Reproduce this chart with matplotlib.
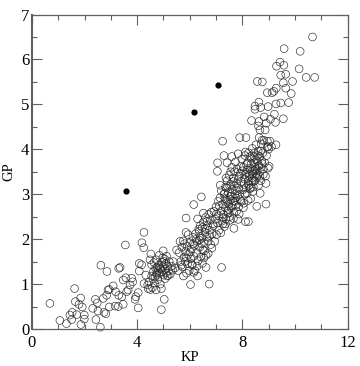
"""Scatter of GP against KP: open circles plus three filled outliers."""
import matplotlib
matplotlib.use("Agg")
import matplotlib.pyplot as plt
from matplotlib.ticker import MultipleLocator

FRAME = "#5f5f5f"

# filled outliers
kp_filled = [3.57, 6.18, 7.07]
gp_filled = [3.07, 4.83, 5.42]

# sparse low end, x < 4.5
kp_low = [0.68, 1.06, 1.31, 1.51, 1.44, 1.53, 1.70, 1.62, 1.65, 1.79, 1.85, 1.91, 1.86, 1.99, 1.99,
          2.31, 2.41, 2.48, 2.51, 2.43, 2.60, 2.62, 2.85, 2.71, 2.84, 2.89, 2.94, 2.74, 2.81, 2.94,
          3.16, 3.28, 3.09, 3.18, 3.30, 3.42, 3.47, 3.30, 3.35, 3.55, 3.57, 3.47, 3.66, 3.60, 3.73,
          3.79, 3.83, 3.92, 3.95, 4.04, 4.04, 4.08, 4.17, 4.08, 4.18, 4.25, 4.26, 4.26, 4.33, 4.40,
          4.42]
gp_low = [0.57, 0.19, 0.12, 0.21, 0.31, 0.37, 0.32, 0.90, 0.61, 0.55, 0.69, 0.49, 0.10, 0.31, 0.22,
          0.46, 0.66, 0.58, 0.40, 0.21, 0.04, 1.42, 1.28, 0.68, 0.75, 0.87, 0.88, 0.37, 0.34, 0.49,
          0.51, 0.50, 0.96, 0.83, 0.75, 0.72, 0.55, 1.35, 1.37, 1.87, 1.14, 1.09, 0.87, 0.83, 0.98,
          1.13, 1.05, 0.66, 0.72, 0.81, 0.47, 1.46, 1.43, 1.29, 1.92, 1.81, 2.15, 1.01, 1.20, 0.98,
          0.90]

# first cluster, x 4.4 to 5.5
kp_mid1 = [4.45, 4.50, 4.52, 4.49, 4.55, 4.55, 4.58, 4.62, 4.66, 4.70, 4.72, 4.75, 4.78, 4.80, 4.82,
           4.85, 4.88, 4.90, 4.92, 4.95, 4.98, 5.00, 5.02, 5.05, 5.08, 5.10, 5.12, 5.15, 4.92, 5.03,
           5.18, 4.99, 5.35, 5.37, 4.68, 4.74, 4.86, 4.94, 5.04, 5.20, 5.22, 5.30, 4.60, 4.76, 4.97,
           4.64, 4.84, 5.06, 5.14, 4.72, 5.26, 5.44]
gp_mid1 = [1.05, 0.88, 1.67, 1.54, 1.18, 1.43, 0.92, 1.28, 1.02, 1.35, 0.87, 1.20, 1.10, 1.30, 1.42,
           1.25, 1.00, 1.33, 0.90, 1.28, 1.38, 1.20, 1.50, 1.32, 1.45, 1.25, 1.62, 1.40, 0.43, 0.66,
           1.19, 1.74, 1.31, 1.50, 1.16, 1.24, 1.36, 1.48, 1.56, 1.30, 1.50, 1.40, 1.12, 1.37, 1.58,
           1.48, 1.64, 1.12, 1.18, 1.54, 1.22, 1.36]

# second cluster, x 5.4 to 6.9
kp_mid2 = [5.50, 5.63, 5.75, 5.86, 5.86, 6.03, 5.88, 5.60, 5.66, 5.70, 5.72, 5.78, 5.80, 5.84, 5.90,
           5.92, 5.95, 5.98, 6.00, 6.04, 6.06, 6.10, 6.12, 6.15, 6.18, 6.20, 6.22, 6.26, 6.28, 6.30,
           6.32, 6.36, 6.38, 6.40, 6.42, 6.46, 6.48, 6.50, 6.52, 6.55, 6.58, 6.60, 6.62, 6.65, 6.68,
           6.70, 6.72, 6.74, 6.75, 6.78, 6.80, 6.82, 6.85, 6.88, 6.30, 6.15, 6.62, 5.87, 6.44, 6.15,
           6.08, 6.24, 6.34, 6.44, 6.56, 6.66, 6.76, 6.52, 6.36, 5.94, 5.56, 5.68, 5.76, 5.82, 6.02,
           6.14, 6.28, 6.40, 6.54, 6.70, 6.84, 6.48, 6.58]
gp_mid2 = [1.76, 1.95, 1.96, 2.47, 2.15, 0.99, 1.24, 1.70, 1.50, 1.82, 1.38, 1.60, 1.90, 1.72, 1.84,
           1.45, 1.66, 1.30, 1.92, 1.56, 1.78, 1.42, 2.04, 1.62, 1.86, 1.30, 2.12, 1.70, 1.95, 2.45,
           1.52, 2.18, 1.82, 2.30, 1.60, 2.02, 2.26, 1.76, 2.38, 1.92, 2.15, 2.48, 1.37, 2.05, 2.30,
           1.68, 2.55, 1.00, 2.20, 2.42, 1.88, 2.60, 2.12, 2.34, 1.18, 2.77, 1.64, 1.58, 2.94, 1.26,
           1.44, 2.00, 2.22, 1.90, 1.74, 2.40, 2.08, 2.58, 1.98, 2.10, 1.30, 1.42, 1.18, 1.50, 1.72,
           1.90, 1.40, 2.06, 1.58, 1.96, 1.80, 1.46, 2.24]

# third cluster, x 6.8 to 8
kp_mid3 = [6.90, 6.92, 6.95, 6.98, 7.00, 7.02, 7.05, 7.05, 7.06, 7.08, 7.10, 7.12, 7.15, 7.18, 7.20,
           7.21, 7.22, 7.25, 7.25, 7.28, 7.30, 7.30, 7.32, 7.35, 7.36, 7.38, 7.40, 7.42, 7.44, 7.46,
           7.48, 7.50, 7.52, 7.54, 7.56, 7.58, 7.60, 7.62, 7.64, 7.66, 7.68, 7.70, 7.72, 7.74, 7.76,
           7.78, 7.80, 7.82, 7.84, 7.86, 7.88, 7.90, 7.92, 7.94, 7.96, 7.98, 7.12, 7.26, 7.34, 7.44,
           7.52, 7.58, 7.64, 7.72, 7.80, 7.86, 7.92, 7.33, 7.40, 7.48, 7.55, 7.62, 7.70, 7.75, 7.84,
           7.90, 8.00, 7.16, 7.28, 7.38, 7.46, 7.56, 7.66, 7.78, 7.88, 7.96, 7.02, 7.18, 7.36, 7.52,
           7.68, 7.84, 7.42, 7.60]
gp_mid3 = [2.30, 2.62, 1.95, 2.44, 2.72, 2.10, 3.51, 2.36, 3.70, 2.84, 2.52, 2.20, 2.92, 2.62, 3.08,
           1.37, 2.40, 4.18, 2.78, 2.55, 3.86, 3.00, 2.28, 2.70, 3.16, 2.45, 2.88, 3.30, 2.62, 3.04,
           2.78, 3.42, 2.50, 2.95, 3.22, 2.70, 3.60, 3.10, 2.85, 3.36, 2.60, 3.50, 3.00, 3.72, 2.76,
           3.24, 3.56, 2.95, 3.90, 3.14, 3.40, 4.26, 2.88, 3.62, 3.28, 3.78, 2.74, 2.34, 2.90, 2.82,
           3.18, 2.96, 3.28, 2.84, 3.08, 2.72, 3.46, 3.02, 3.14, 2.66, 2.88, 2.74, 3.18, 2.92, 3.34,
           3.00, 3.52, 3.20, 2.48, 3.36, 2.58, 3.50, 2.46, 2.62, 2.56, 2.84, 2.56, 2.14, 2.34, 2.42,
           2.24, 2.44, 3.70, 3.84]

# densest cluster, x 8 to 9
kp_mid4 = [8.02, 8.04, 8.06, 8.08, 8.10, 8.12, 8.14, 8.14, 8.16, 8.18, 8.20, 8.22, 8.23, 8.24, 8.26,
           8.28, 8.30, 8.32, 8.34, 8.36, 8.38, 8.40, 8.42, 8.44, 8.46, 8.48, 8.50, 8.52, 8.54, 8.55,
           8.56, 8.58, 8.60, 8.62, 8.64, 8.64, 8.66, 8.68, 8.70, 8.72, 8.75, 8.78, 8.80, 8.82, 8.85,
           8.88, 8.90, 8.92, 8.95, 8.98, 9.00, 9.02, 9.05, 8.10, 8.16, 8.24, 8.30, 8.36, 8.42, 8.48,
           8.52, 8.58, 8.66, 8.74, 8.80, 8.06, 8.20, 8.34, 8.44, 8.56, 8.62, 8.70, 8.12, 8.28, 8.38,
           8.46, 8.50, 8.10, 8.22, 8.32, 8.40, 8.68, 8.90, 8.26, 8.04]
gp_mid4 = [3.10, 3.60, 2.80, 3.34, 3.86, 2.39, 3.14, 4.26, 3.48, 3.02, 3.70, 3.24, 2.39, 3.92, 3.40,
           3.12, 3.58, 2.90, 3.80, 3.30, 4.02, 3.46, 3.16, 3.70, 3.92, 3.30, 3.56, 4.10, 3.38, 2.73,
           3.74, 3.42, 3.96, 3.20, 4.26, 3.64, 3.84, 3.50, 3.30, 4.12, 3.68, 3.92, 3.44, 4.20, 3.70,
           3.40, 2.78, 3.86, 4.05, 3.58, 4.00, 3.62, 4.18, 3.44, 3.66, 3.30, 3.84, 3.50, 3.28, 3.60,
           3.46, 3.86, 3.40, 3.74, 3.56, 3.22, 3.54, 3.68, 3.84, 3.52, 3.62, 3.96, 3.94, 3.44, 3.36,
           3.52, 3.78, 3.00, 2.86, 3.14, 3.06, 3.02, 3.24, 3.20, 2.70]

# sparse high end
kp_high = [10.67, 9.59, 10.20, 10.16, 10.43, 10.75, 9.43, 9.30, 9.58, 9.46, 9.65, 9.91, 9.56, 9.65, 9.86,
           8.57, 8.76, 8.95, 9.13, 9.20, 9.29, 8.63, 8.48, 8.48, 8.70, 8.98, 9.28, 9.46, 9.76, 8.35,
           8.83, 9.22, 9.07, 9.26, 9.56, 8.63, 8.91, 8.61, 8.67, 8.87, 8.75, 8.95, 9.28, 9.11, 8.98]
gp_high = [6.50, 6.24, 6.18, 5.79, 5.60, 5.60, 5.94, 5.85, 5.87, 5.65, 5.67, 5.51, 5.48, 5.36, 5.24,
           5.51, 5.50, 5.26, 5.26, 5.29, 5.36, 5.05, 4.96, 4.89, 4.93, 4.95, 5.01, 5.03, 5.04, 4.64,
           4.72, 4.78, 4.67, 4.60, 4.68, 4.62, 4.58, 4.52, 4.43, 4.43, 4.20, 4.18, 4.10, 4.06, 4.06]

kp_open = kp_low + kp_mid1 + kp_mid2 + kp_mid3 + kp_mid4 + kp_high
gp_open = gp_low + gp_mid1 + gp_mid2 + gp_mid3 + gp_mid4 + gp_high

plt.rcParams["font.family"] = ["Liberation Serif", "DejaVu Serif"]

fig = plt.figure(figsize=(3.6, 3.66), dpi=100)
ax = fig.add_axes([32.0 / 360, 1 - 329.0 / 366, 315.5 / 360, 314.5 / 366])

ax.scatter(kp_open, gp_open, s=31, facecolors="none", edgecolors="#2a2a2a", linewidths=0.45, clip_on=False)
ax.scatter(kp_filled, gp_filled, s=20, color="black", linewidths=0, zorder=3)

ax.set_xlim(0, 12)
ax.set_ylim(0, 7)
ax.xaxis.set_major_locator(MultipleLocator(4))
ax.xaxis.set_minor_locator(MultipleLocator(1))
ax.yaxis.set_major_locator(MultipleLocator(1))
ax.yaxis.set_minor_locator(MultipleLocator(0.5))
ax.tick_params(which="major", direction="in", length=7, width=0.8, color=FRAME,
               top=True, right=True, labelsize=12)
ax.tick_params(axis="x", which="major", pad=4)
ax.tick_params(axis="y", which="major", pad=2)
ax.tick_params(which="minor", direction="in", length=3.6, width=0.8, color=FRAME, top=True, right=True)

for side, spine in ax.spines.items():
    spine.set_color(FRAME)
    spine.set_linewidth(1.5 if side == "left" else 0.9)

ax.set_xlabel("KP", fontsize=10.5, va="center")
ax.set_ylabel("GP", fontsize=10.5, va="center")
ax.xaxis.set_label_coords(0.5, -0.092)
ax.yaxis.set_label_coords(-0.073, 0.5)

fig.savefig("out.png", dpi=100)
plt.close()
